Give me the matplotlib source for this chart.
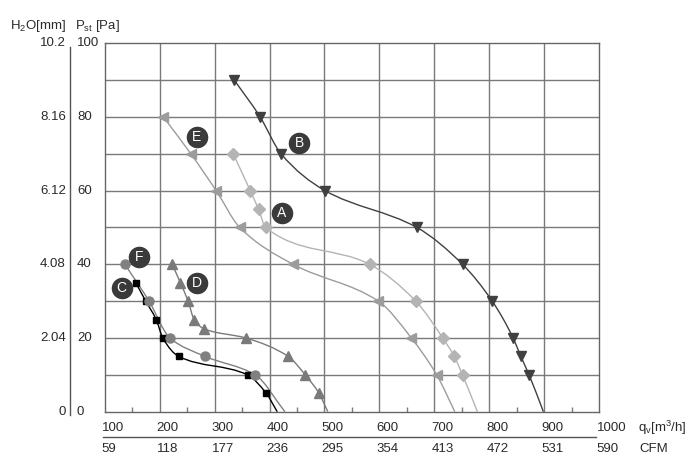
import matplotlib
matplotlib.use("Agg")
import matplotlib.pyplot as plt
import matplotlib.transforms as mtransforms
from matplotlib.path import Path
from matplotlib.patches import PathPatch
import numpy as np

plt.rcParams["font.family"] = ["Liberation Sans", "DejaVu Sans"]

# fan curves: flow [m3/h], static pressure [Pa]; last point is the line end (no marker)
a_q = [334, 365, 380, 393, 582, 666, 715, 736, 751, 778]
a_p = [70, 60, 55, 50, 40, 30, 20, 15, 10, 0]
b_q = [336, 383, 421, 501, 668, 751, 805, 843, 857, 872, 898]
b_p = [90, 80, 70, 60, 50, 40, 30, 20, 15, 10, 0]
c_q = [157, 175, 194, 206, 235, 360, 394, 414]
c_p = [35, 30, 25, 20, 15, 10, 5, 0]
d_q = [223, 238, 252, 263, 281, 357, 434, 465, 490, 506]
d_p = [40, 35, 30, 25, 22.5, 20, 15, 10, 5, 0]
e_q = [207, 257, 303, 346, 443, 598, 658, 704, 737]
e_p = [80, 70, 60, 50, 40, 30, 20, 10, 0]
f_q = [137, 181, 219, 283, 374, 428]
f_p = [40, 30, 20, 15, 10, 0]

curve_names = ["A", "B", "C", "D", "E", "F"]
label_pos = {"A": (422, 54), "B": (454, 73), "C": (131, 33.5),
             "D": (268, 35), "E": (268, 74.6), "F": (163, 42)}

q_ticks = [100, 200, 300, 400, 500, 600, 700, 800, 900, 1000]
cfm_ticks = [59, 118, 177, 236, 295, 354, 413, 472, 531, 590]
pa_ticks = [0, 20, 40, 60, 80, 100]
mm_ticks = ["0", "2.04", "4.08", "6.12", "8.16", "10.2"]

styles = {
    "A": dict(color="#b4b4b4", marker="D", ms=6.5),
    "B": dict(color="#404040", marker="v", ms=7.5),
    "C": dict(color="#000000", marker="s", ms=5),
    "D": dict(color="#7a7a7a", marker="^", ms=7.5),
    "E": dict(color="#9c9c9c", marker="<", ms=7.5),
    "F": dict(color="#808080", marker="o", ms=6.5),
}
data = {"A": (a_q, a_p), "B": (b_q, b_p), "C": (c_q, c_p),
        "D": (d_q, d_p), "E": (e_q, e_p), "F": (f_q, f_p)}


def smooth_path(q, p):
    # monotone cubic (Fritsch-Carlson) drawn as bezier segments
    x = np.asarray(q, float)
    y = np.asarray(p, float)
    h = np.diff(x)
    d = np.diff(y) / h
    m = np.zeros_like(x)
    m[0], m[-1] = d[0], d[-1]
    for i in range(1, len(x) - 1):
        if d[i - 1] * d[i] <= 0:
            m[i] = 0
        else:
            w1 = 2 * h[i] + h[i - 1]
            w2 = h[i] + 2 * h[i - 1]
            m[i] = (w1 + w2) / (w1 / d[i - 1] + w2 / d[i])
    verts = [(x[0], y[0])]
    codes = [Path.MOVETO]
    for i in range(len(h)):
        verts += [(x[i] + h[i] / 3, y[i] + m[i] * h[i] / 3),
                  (x[i + 1] - h[i] / 3, y[i + 1] - m[i + 1] * h[i] / 3),
                  (x[i + 1], y[i + 1])]
        codes += [Path.CURVE4] * 3
    return Path(verts, codes)


fig = plt.figure(figsize=(7.0, 4.69), dpi=100)
ax = fig.add_axes([0.1493, 0.1222, 0.7071, 0.7855])
ax.set_xlim(100, 1000)
ax.set_ylim(0, 100)

grid_c = "#7a7a7a"
for xv in q_ticks[1:-1]:
    ax.axvline(xv, color=grid_c, lw=1.0, zorder=1)
for yv in range(10, 100, 10):
    ax.axhline(yv, color=grid_c, lw=1.0, zorder=1)
for s in ax.spines.values():
    s.set_color("#666666")
    s.set_linewidth(1.0)

ax.set_xticks(q_ticks)
ax.set_xticks(np.arange(150, 1000, 100), minor=True)
ax.set_yticks(pa_ticks)
ax.tick_params(axis="x", which="minor", direction="in", length=3.5, color=grid_c, width=1)
ax.tick_params(axis="x", which="major", length=0, labelbottom=False)
ax.tick_params(axis="y", length=0, labelleft=False)

for name in curve_names:
    q, p = data[name]
    st = styles[name]
    ax.add_patch(PathPatch(smooth_path(q, p), facecolor="none", edgecolor=st["color"],
                           lw=1.0, zorder=3))
    ax.plot(q[:-1], p[:-1], linestyle="none", marker=st["marker"], ms=st["ms"],
            mfc=st["color"], mec=st["color"], zorder=4, clip_on=False)
    lx, ly = label_pos[name]
    ax.plot(lx, ly, "o", ms=14.5, color="#3a3a3a", zorder=5)
    ax.text(lx, ly, name, color="white", fontsize=10, ha="center", va="center", zorder=6)

fs = 9.5
txt_c = "#2a2a2a"
ytr = mtransforms.blended_transform_factory(ax.transAxes, ax.transData)
xtr = mtransforms.blended_transform_factory(ax.transData, ax.transAxes)

# left scales
for pa, mm in zip(pa_ticks, mm_ticks):
    ax.text(-0.0556, pa, str(pa), transform=ytr, ha="left", va="center",
            fontsize=fs, color=txt_c, clip_on=False)
    ax.text(-0.078, pa, mm, transform=ytr, ha="right", va="center",
            fontsize=fs, color=txt_c, clip_on=False)
ax.plot([-0.0703, -0.0703], [-1, 99], transform=ytr, color="#555555", lw=1.0, clip_on=False)
ax.text(-0.19, 1.047, r"H$\mathregular{_2}$O[mm]", transform=ax.transAxes, ha="left",
        va="center", fontsize=fs, color=txt_c)
ax.text(-0.06, 1.047, r"P$\mathregular{_{st}}$ [Pa]", transform=ax.transAxes, ha="left",
        va="center", fontsize=fs, color=txt_c)

# bottom scales
for qv, cfm in zip(q_ticks, cfm_ticks):
    ax.text(qv - 5, -0.043, str(qv), transform=xtr, ha="left", va="center",
            fontsize=fs, color=txt_c, clip_on=False)
    ax.text(qv - 5, -0.101, str(cfm), transform=xtr, ha="left", va="center",
            fontsize=fs, color=txt_c, clip_on=False)
ax.plot([98, 994], [-0.068, -0.068], transform=xtr, color="#555555", lw=1.0, clip_on=False)
ax.text(1.077, -0.043, r"q$\mathregular{_v}$[m$\mathregular{^3}$/h]", transform=ax.transAxes,
        ha="left", va="center", fontsize=fs, color=txt_c)
ax.text(1.08, -0.101, "CFM", transform=ax.transAxes, ha="left", va="center",
        fontsize=fs, color=txt_c)

fig.savefig("out.png", dpi=100, facecolor="white")
